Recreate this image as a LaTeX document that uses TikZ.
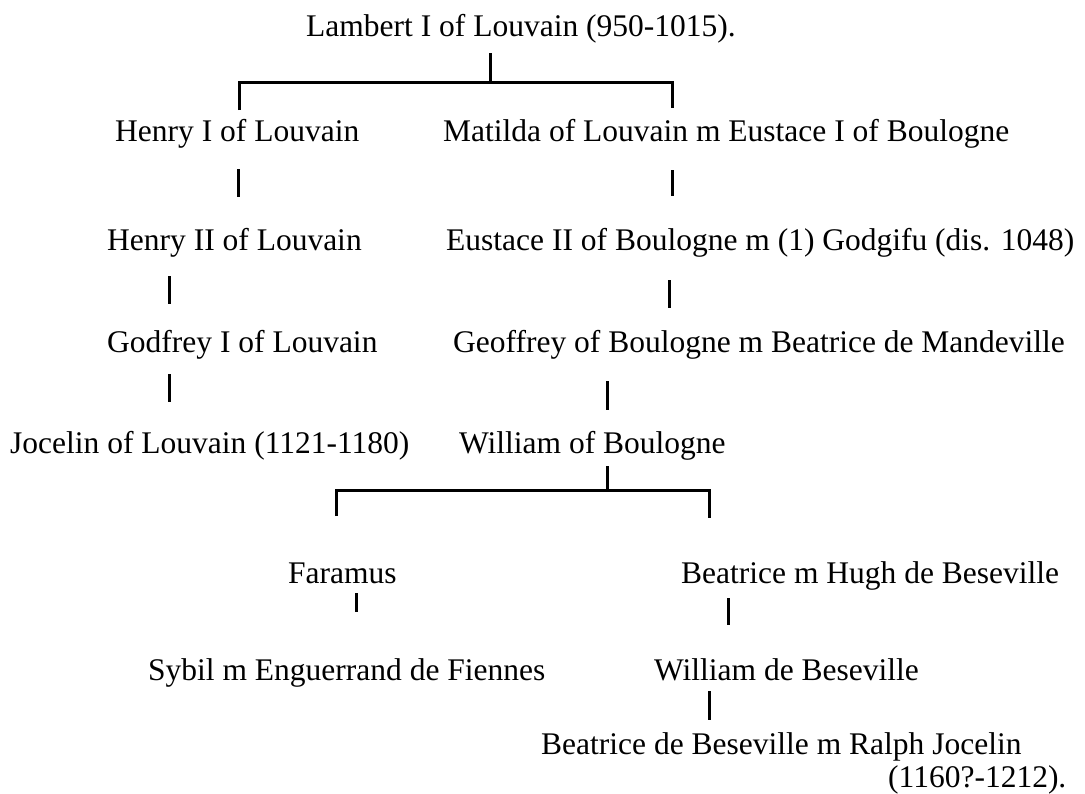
\documentclass[tikz,border=0pt]{standalone}
\usepackage{fontspec}
\setmainfont{Liberation Serif}
\begin{document}
\begin{tikzpicture}[x=1pt, y=-1pt, every node/.style={anchor=base west, inner sep=0pt, font=\fontsize{31.5}{36}\selectfont}, line/.style={line width=3pt}]
	\useasboundingbox (0,0) rectangle (1085,793);
	\node(lambert) at (306,36) {Lambert I of Louvain (950-1015).};
	\node(henryI) at (115,141) {Henry I of Louvain};
	\node(matilda) at (443,141) {Matilda of Louvain m Eustace I of Boulogne};
	\node(henryII) at (107,250) {Henry II of Louvain};
	\node(eustace) at (446,250) {Eustace II of Boulogne m (1) Godgifu (dis. 1048)};
	\node(godfrey) at (107,352) {Godfrey I of Louvain};
	\node(geoffrey) at (453,352) {Geoffrey of Boulogne m Beatrice de Mandeville};
	\node(jocelin) at (10,453) {Jocelin of Louvain (1121-1180)};
	\node(williamB) at (459,453) {William of Boulogne};
	\node(faramus) at (288,583) {Faramus};
	\node(beatriceH) at (681,583) {Beatrice m Hugh de Beseville};
	\node(sybil) at (148,680) {Sybil m Enguerrand de Fiennes};
	\node(williamD) at (654,680) {William de Beseville};
	\node(beatriceD) at (541,754) {Beatrice de Beseville m Ralph Jocelin};
	\node(dates) at (888,787) {(1160?-1212).};
	\coordinate(lambert-s) at (490,53);
	\coordinate(lambert-j) at (490,82);
	\coordinate(henryI-t) at (239,110);
	\coordinate(matilda-t) at (672,108);
	\coordinate(henryI-s) at (238,169);
	\coordinate(henryII-t) at (238,197);
	\coordinate(matilda-s) at (672,170);
	\coordinate(eustace-t) at (672,196);
	\coordinate(henryII-s) at (169,276);
	\coordinate(godfrey-t) at (169,304);
	\coordinate(eustace-s) at (669,280);
	\coordinate(geoffrey-t) at (669,308);
	\coordinate(godfrey-s) at (169,374);
	\coordinate(jocelin-t) at (169,402);
	\coordinate(geoffrey-s) at (607,381);
	\coordinate(williamB-t) at (607,410);
	\coordinate(williamB-s) at (607,466);
	\coordinate(williamB-j) at (607,490);
	\coordinate(faramus-t) at (336,516);
	\coordinate(beatriceH-t) at (709,518);
	\coordinate(faramus-s) at (356,593);
	\coordinate(sybil-t) at (356,612);
	\coordinate(beatriceH-s) at (728,598);
	\coordinate(williamD-t) at (728,625);
	\coordinate(williamD-s) at (709,691);
	\coordinate(beatriceD-t) at (709,720);
	\draw[line] (lambert-s) -- (lambert-j);
	\draw[line] (henryI-t) |- (lambert-j) -| (matilda-t);
	\draw[line] (henryI-s) -- (henryII-t);
	\draw[line] (matilda-s) -- (eustace-t);
	\draw[line] (henryII-s) -- (godfrey-t);
	\draw[line] (eustace-s) -- (geoffrey-t);
	\draw[line] (godfrey-s) -- (jocelin-t);
	\draw[line] (geoffrey-s) -- (williamB-t);
	\draw[line] (williamB-s) -- (williamB-j);
	\draw[line] (faramus-t) |- (williamB-j) -| (beatriceH-t);
	\draw[line] (faramus-s) -- (sybil-t);
	\draw[line] (beatriceH-s) -- (williamD-t);
	\draw[line] (williamD-s) -- (beatriceD-t);
\end{tikzpicture}
\end{document}
